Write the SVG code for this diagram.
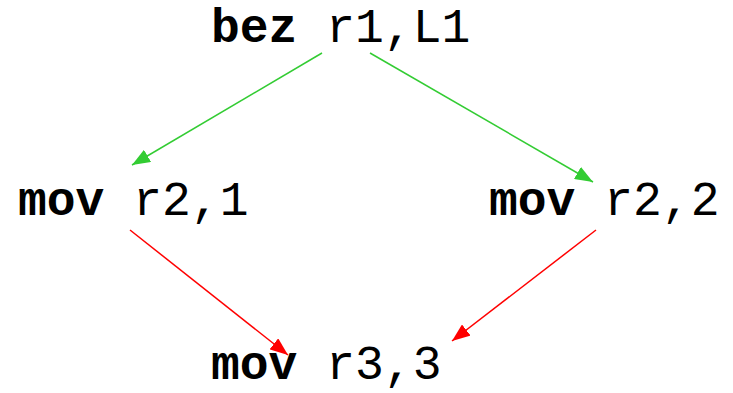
<svg xmlns="http://www.w3.org/2000/svg" width="733" height="393" viewBox="0 0 733 393">
<style>
text{font-family:"Liberation Mono","Courier New",monospace;font-size:48px;fill:#000}
.b{font-weight:bold}
.g{stroke:#33cc33;stroke-width:1.5;fill:none}
.r{stroke:#ff0000;stroke-width:1.5;fill:none}
</style>
<defs>
<marker id="ag" markerUnits="userSpaceOnUse" markerWidth="20" markerHeight="14" refX="18" refY="7" orient="auto"><path d="M0,0 L18,7 L0,14 Z" fill="#33cc33"/></marker>
<marker id="ar" markerUnits="userSpaceOnUse" markerWidth="20" markerHeight="14" refX="18" refY="7" orient="auto"><path d="M0,0 L18,7 L0,14 Z" fill="#ff0000"/></marker>
</defs>
<rect width="733" height="393" fill="#fff"/>
<g id="connectors">
<path class="g" d="M322,53 L132,165" marker-end="url(#ag)"/>
<path class="g" d="M370,53 L593,182" marker-end="url(#ag)"/>
<path class="r" d="M130,230 L288,355" marker-end="url(#ar)"/>
<path class="r" d="M596,230 L452,341" marker-end="url(#ar)"/>
</g>
<g id="n1"><text x="211" y="42"><tspan class="b">bez</tspan> r1,L1</text></g>
<g id="n2"><text x="18" y="215"><tspan class="b">mov</tspan> r2,1</text></g>
<g id="n3"><text x="489" y="215"><tspan class="b">mov</tspan> r2,2</text></g>
<g id="n4"><text x="211" y="379"><tspan class="b">mov</tspan> r3,3</text></g>
</svg>
